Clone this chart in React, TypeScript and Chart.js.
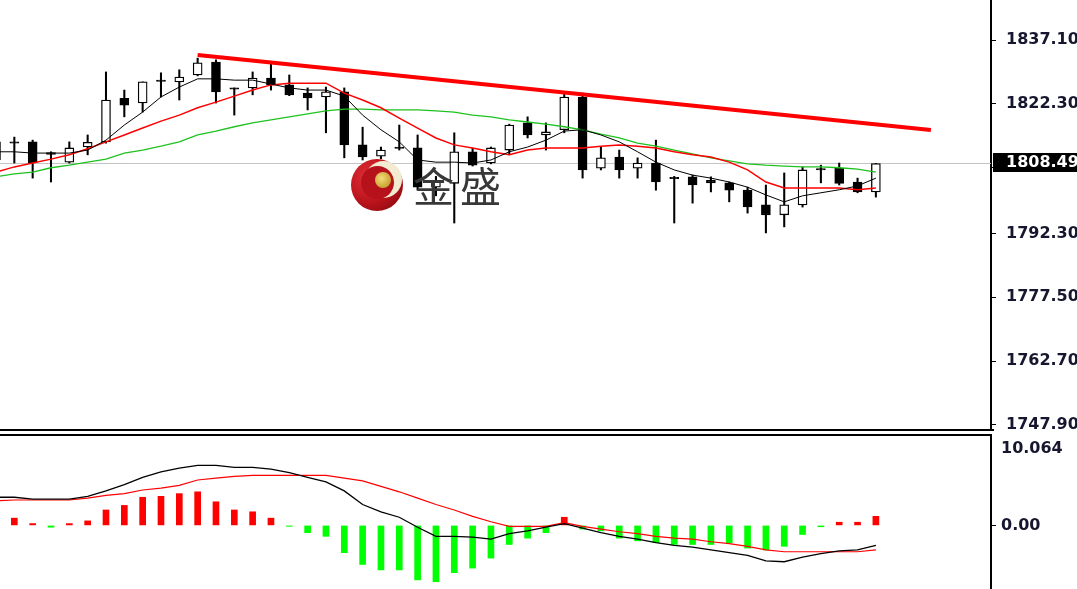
import React, { useEffect, useRef } from "react";
import { Chart, registerables } from "chart.js";

Chart.register(...registerables);

// ---------------- data ----------------
const opens = [1809.3, 1813.5, 1813.5, 1811.0, 1808.8, 1812.3, 1813.5, 1823.6, 1822.5, 1827.8, 1827.4, 1829.0, 1832.0, 1826.0, 1826.0, 1828.3, 1826.7, 1824.8, 1823.9, 1825.1, 1812.8, 1810.2, 1812.3, 1812.1, 1803.0, 1803.9, 1811.2, 1808.6, 1811.6, 1817.9, 1815.1, 1816.3, 1823.9, 1807.4, 1810.0, 1807.4, 1808.6, 1805.3, 1805.4, 1804.6, 1804.0, 1802.3, 1798.9, 1796.6, 1798.9, 1807.3, 1807.4, 1804.2, 1801.9];
const highs = [1815.0, 1814.6, 1813.9, 1811.2, 1813.5, 1815.1, 1829.7, 1825.5, 1827.4, 1829.5, 1830.2, 1832.9, 1832.5, 1826.0, 1829.7, 1831.8, 1829.0, 1826.0, 1826.2, 1826.0, 1816.9, 1812.3, 1817.4, 1815.1, 1805.5, 1815.6, 1812.0, 1812.3, 1817.6, 1819.3, 1817.9, 1824.8, 1824.8, 1812.3, 1811.6, 1809.8, 1813.9, 1805.5, 1805.8, 1805.4, 1804.2, 1803.0, 1803.5, 1806.3, 1807.7, 1808.1, 1808.6, 1805.1, 1808.5];
const lows = [1808.0, 1808.6, 1805.1, 1804.2, 1808.6, 1810.5, 1813.2, 1819.3, 1820.4, 1823.9, 1823.2, 1828.8, 1822.5, 1819.7, 1824.4, 1825.5, 1824.2, 1820.9, 1815.6, 1809.8, 1809.3, 1809.6, 1811.6, 1802.3, 1801.0, 1794.7, 1807.9, 1808.4, 1810.5, 1814.4, 1811.6, 1815.6, 1805.1, 1807.0, 1805.1, 1805.1, 1802.3, 1794.7, 1799.3, 1801.9, 1799.6, 1797.0, 1792.4, 1793.8, 1798.4, 1804.0, 1803.5, 1801.7, 1800.7];
const closes = [1813.5, 1813.2, 1808.6, 1810.6, 1812.1, 1813.4, 1823.2, 1822.0, 1827.4, 1827.5, 1828.5, 1831.8, 1825.1, 1825.7, 1828.3, 1826.7, 1824.4, 1823.7, 1825.1, 1812.8, 1810.0, 1811.6, 1812.0, 1803.0, 1804.2, 1811.2, 1808.1, 1812.1, 1817.4, 1815.1, 1815.8, 1823.9, 1807.0, 1809.8, 1807.0, 1808.6, 1804.2, 1805.0, 1803.5, 1804.0, 1802.3, 1798.4, 1796.6, 1798.9, 1807.0, 1807.0, 1803.9, 1801.9, 1808.49];

const maFast = [1811.2, 1811.2, 1810.9, 1810.9, 1810.9, 1811.6, 1813.9, 1817.4, 1820.4, 1823.9, 1826.2, 1828.1, 1828.1, 1827.8, 1827.8, 1826.9, 1826.0, 1825.5, 1825.5, 1824.1, 1819.7, 1816.3, 1813.5, 1809.3, 1808.8, 1808.8, 1808.6, 1809.3, 1811.2, 1812.3, 1813.9, 1816.0, 1816.3, 1815.1, 1813.5, 1811.2, 1808.8, 1807.0, 1805.8, 1805.1, 1804.2, 1803.0, 1801.2, 1799.6, 1801.0, 1801.7, 1802.4, 1803.3, 1805.1];
const maMid = [1806.5, 1807.7, 1808.6, 1809.5, 1810.5, 1811.9, 1813.5, 1815.1, 1816.7, 1818.3, 1819.7, 1821.4, 1822.7, 1824.1, 1825.5, 1826.7, 1827.1, 1827.1, 1827.1, 1824.8, 1823.2, 1821.4, 1819.0, 1816.7, 1814.4, 1812.8, 1812.1, 1811.2, 1810.5, 1811.6, 1812.1, 1812.1, 1812.1, 1812.5, 1812.8, 1812.5, 1812.1, 1811.2, 1810.5, 1810.0, 1808.8, 1807.0, 1804.2, 1802.8, 1802.8, 1802.8, 1802.8, 1802.4, 1802.8];
const maSlow = [1805.4, 1806.1, 1806.5, 1807.5, 1808.1, 1808.8, 1809.5, 1810.9, 1811.6, 1812.5, 1813.5, 1815.1, 1816.0, 1817.0, 1817.9, 1818.6, 1819.3, 1820.0, 1820.7, 1821.1, 1821.1, 1820.9, 1820.9, 1820.9, 1820.7, 1820.4, 1819.7, 1819.3, 1818.6, 1818.1, 1817.6, 1817.0, 1816.3, 1815.3, 1814.4, 1813.2, 1812.5, 1811.6, 1810.7, 1809.8, 1809.1, 1808.4, 1808.1, 1807.9, 1807.7, 1807.7, 1807.5, 1807.2, 1806.5];

const macdHist = [0.3, 0.8, 0.2, -0.2, 0.2, 0.5, 1.7, 2.2, 3.1, 3.2, 3.5, 3.7, 2.6, 1.7, 1.5, 0.8, -0.1, -0.8, -1.2, -3.0, -4.3, -4.9, -4.9, -6.0, -6.2, -5.2, -4.7, -3.6, -2.1, -1.4, -0.8, 0.9, -0.4, -0.6, -1.4, -1.7, -1.9, -2.1, -2.1, -2.1, -1.9, -2.5, -2.7, -2.3, -1.0, -0.15, 0.35, 0.35, 1.0];
const macdLine = [3.1, 3.1, 2.9, 2.9, 2.9, 3.2, 3.8, 4.5, 5.3, 5.9, 6.3, 6.6, 6.6, 6.4, 6.4, 6.2, 5.8, 5.3, 4.8, 3.8, 2.3, 1.5, 0.9, -0.2, -1.2, -1.2, -1.3, -1.5, -0.9, -0.6, -0.2, 0.2, -0.3, -0.8, -1.2, -1.5, -1.9, -2.2, -2.4, -2.7, -3.0, -3.3, -3.9, -4.0, -3.5, -3.1, -2.8, -2.7, -2.2];
const macdSignal = [2.7, 2.8, 2.8, 2.8, 2.8, 3.0, 3.3, 3.5, 3.9, 4.1, 4.4, 5.0, 5.2, 5.4, 5.5, 5.5, 5.5, 5.5, 5.5, 5.2, 4.9, 4.3, 3.7, 3.0, 2.3, 1.7, 1.0, 0.4, -0.1, -0.1, -0.1, 0.3, -0.1, -0.4, -0.7, -0.9, -1.2, -1.4, -1.5, -1.8, -2.0, -2.3, -2.7, -2.9, -2.9, -2.9, -2.9, -2.9, -2.7];

const lastPrice = 1808.49;
const trendStart = { x: 11, y: 1833.6 };
const trendEnd = { x: 51, y: 1816.25 };

const priceTickValues = [1837.1, 1822.3, 1807.5, 1792.3, 1777.5, 1762.7, 1747.9];
const macdTickValues = [8.41, 0];
const macdTickLabels = ["10.064", "0.00"];
const watermarkText = "金盛";

// ---------------- layout constants ----------------
const W = 1077;
const AXIS_W = 86;
const X_MIN = 0.218;
const X_MAX = 54.28;
const PRICE_MIN = 1746.97;
const PRICE_MAX = 1846.37;
const MACD_MIN = -7.0;
const MACD_MAX = 10.064;
const LABEL_COLOR = "#16162e";
const AXIS_FONT = { family: "'DejaVu Sans', sans-serif", size: 16, weight: "bold" as const };

const idx = opens.map((_, i) => i);

const fitAxis = (s: any) => {
  s.width = AXIS_W;
  s.paddingTop = 0;
  s.paddingBottom = 0;
};

const priceBoxPlugin = {
  id: "priceBox",
  afterDraw(chart: any) {
    const y = Math.round(chart.scales.y.getPixelForValue(lastPrice));
    const ctx = chart.ctx as CanvasRenderingContext2D;
    const left = chart.chartArea.right + 2;
    ctx.save();
    ctx.fillStyle = "#000";
    ctx.fillRect(left, y - 10, W - left, 19);
    ctx.fillStyle = "#fff";
    ctx.font = `bold 16px 'DejaVu Sans', sans-serif`;
    ctx.textBaseline = "middle";
    ctx.textAlign = "left";
    ctx.fillText(lastPrice.toFixed(2), 1006, y);
    ctx.restore();
  },
};

export default function App() {
  const priceRef = useRef<HTMLCanvasElement>(null);
  const macdRef = useRef<HTMLCanvasElement>(null);

  useEffect(() => {
    const charts: Chart[] = [];
    if (priceRef.current) {
      charts.push(
        new Chart(priceRef.current, {
          type: "bar",
          data: {
            datasets: [
              {
                type: "line",
                data: [
                  { x: X_MIN, y: lastPrice },
                  { x: X_MAX, y: lastPrice },
                ],
                borderColor: "#c4c4c4",
                borderWidth: 1,
                pointRadius: 0,
                order: 10,
              } as any,
              {
                type: "bar",
                data: idx.map((i) => ({ x: i, y: [lows[i], highs[i]] })),
                backgroundColor: "#000",
                barThickness: 1.4,
                grouped: false,
                order: 9,
              } as any,
              {
                type: "bar",
                data: idx.map((i) => ({ x: i, y: [opens[i], closes[i]] })),
                backgroundColor: idx.map((i) => (closes[i] >= opens[i] ? "#fff" : "#000")),
                borderColor: "#000",
                borderWidth: 1.3,
                borderSkipped: false,
                barThickness: 9,
                grouped: false,
                order: 8,
              } as any,
              {
                type: "line",
                data: idx.map((i) => ({ x: i, y: maSlow[i] })),
                borderColor: "#1fc21f",
                borderWidth: 1.3,
                pointRadius: 0,
                order: 4,
              } as any,
              {
                type: "line",
                data: idx.map((i) => ({ x: i, y: maMid[i] })),
                borderColor: "#ff0000",
                borderWidth: 1.5,
                pointRadius: 0,
                order: 3,
              } as any,
              {
                type: "line",
                data: idx.map((i) => ({ x: i, y: maFast[i] })),
                borderColor: "#000",
                borderWidth: 1,
                pointRadius: 0,
                order: 2,
              } as any,
              {
                type: "line",
                data: [trendStart, trendEnd],
                borderColor: "#ff0000",
                borderWidth: 4,
                pointRadius: 0,
                order: 1,
              } as any,
            ],
          },
          options: {
            animation: false,
            responsive: false,
            maintainAspectRatio: false,
            layout: { padding: { top: 0, bottom: 11, left: 0, right: 0 } },
            plugins: { legend: { display: false }, tooltip: { enabled: false } },
            scales: {
              x: { type: "linear", min: X_MIN, max: X_MAX, display: false, offset: false },
              y: {
                type: "linear",
                position: "right",
                min: PRICE_MIN,
                max: PRICE_MAX,
                afterFit: fitAxis,
                afterBuildTicks: (s: any) => {
                  s.ticks = priceTickValues.map((v) => ({ value: v }));
                },
                ticks: {
                  autoSkip: false,
                  padding: 10,
                  color: LABEL_COLOR,
                  font: AXIS_FONT,
                  callback: (v: any) => Number(v).toFixed(2),
                },
                grid: { drawOnChartArea: false, drawTicks: true, tickLength: 5, color: "#000" },
                border: { display: true, color: "#000", width: 2 },
              },
            },
          } as any,
          plugins: [priceBoxPlugin],
        })
      );
    }
    if (macdRef.current) {
      charts.push(
        new Chart(macdRef.current, {
          type: "bar",
          data: {
            datasets: [
              {
                type: "bar",
                data: idx.map((i) => ({ x: i, y: macdHist[i] })),
                backgroundColor: idx.map((i) => (macdHist[i] >= 0 ? "#ff0000" : "#00ff00")),
                barThickness: 6,
                grouped: false,
                order: 5,
              } as any,
              {
                type: "line",
                data: idx.map((i) => ({ x: i, y: macdSignal[i] })),
                borderColor: "#ff0000",
                borderWidth: 1.2,
                pointRadius: 0,
                order: 2,
              } as any,
              {
                type: "line",
                data: idx.map((i) => ({ x: i, y: macdLine[i] })),
                borderColor: "#000",
                borderWidth: 1.3,
                pointRadius: 0,
                order: 1,
              } as any,
            ],
          },
          options: {
            animation: false,
            responsive: false,
            maintainAspectRatio: false,
            layout: { padding: 0 },
            plugins: { legend: { display: false }, tooltip: { enabled: false } },
            scales: {
              x: { type: "linear", min: X_MIN, max: X_MAX, display: false, offset: false },
              y: {
                type: "linear",
                position: "right",
                min: MACD_MIN,
                max: MACD_MAX,
                afterFit: fitAxis,
                afterBuildTicks: (s: any) => {
                  s.ticks = macdTickValues.map((v) => ({ value: v }));
                },
                ticks: {
                  autoSkip: false,
                  padding: 5,
                  color: LABEL_COLOR,
                  font: AXIS_FONT,
                  callback: (v: any) => {
                    const k = macdTickValues.indexOf(Number(v));
                    return k >= 0 ? macdTickLabels[k] : "";
                  },
                },
                grid: {
                  drawOnChartArea: false,
                  drawTicks: true,
                  tickLength: 5,
                  color: (c: any) => (c.tick && c.tick.value === 0 ? "#000" : "rgba(0,0,0,0)"),
                },
                border: { display: true, color: "#000", width: 2 },
              },
            },
          } as any,
        })
      );
    }
    return () => charts.forEach((c) => c.destroy());
  }, []);

  return (
    <div
      style={{
        position: "fixed",
        left: 0,
        top: 0,
        width: W,
        height: 589,
        background: "#fff",
        overflow: "hidden",
      }}
    >
      <canvas ref={priceRef} width={W} height={440} style={{ position: "absolute", left: 0, top: 0 }} />
      <canvas ref={macdRef} width={W} height={155} style={{ position: "absolute", left: 0, top: 434 }} />
      <div style={{ position: "absolute", left: 0, top: 429, width: 994, height: 2, background: "#000" }} />
      <div style={{ position: "absolute", left: 0, top: 434, width: 992, height: 2, background: "#000" }} />
      {/* watermark logo */}
      <div
        style={{
          position: "absolute",
          left: 351,
          top: 159,
          width: 52,
          height: 52,
          borderRadius: "50%",
          background: "radial-gradient(circle at 35% 35%, #e43038 0%, #b8121b 55%, #7a060b 100%)",
        }}
      />
      <div
        style={{
          position: "absolute",
          left: 365,
          top: 161,
          width: 37,
          height: 37,
          borderRadius: "50%",
          background: "#f3ead2",
        }}
      />
      <div
        style={{
          position: "absolute",
          left: 361,
          top: 166,
          width: 33,
          height: 33,
          borderRadius: "50%",
          background: "#b5121b",
        }}
      />
      <div
        style={{
          position: "absolute",
          left: 375,
          top: 172,
          width: 16,
          height: 16,
          borderRadius: "50%",
          background: "radial-gradient(circle at 40% 40%, #f2dc7a 0%, #c9a233 70%, #9b7a1c 100%)",
        }}
      />
      <div
        style={{
          position: "absolute",
          left: 413,
          top: 160,
          fontFamily: "'Noto Sans CJK SC', sans-serif",
          fontSize: 41,
          lineHeight: "48px",
          letterSpacing: 6,
          color: "#383838",
          whiteSpace: "nowrap",
        }}
      >
        {watermarkText}
      </div>
    </div>
  );
}
